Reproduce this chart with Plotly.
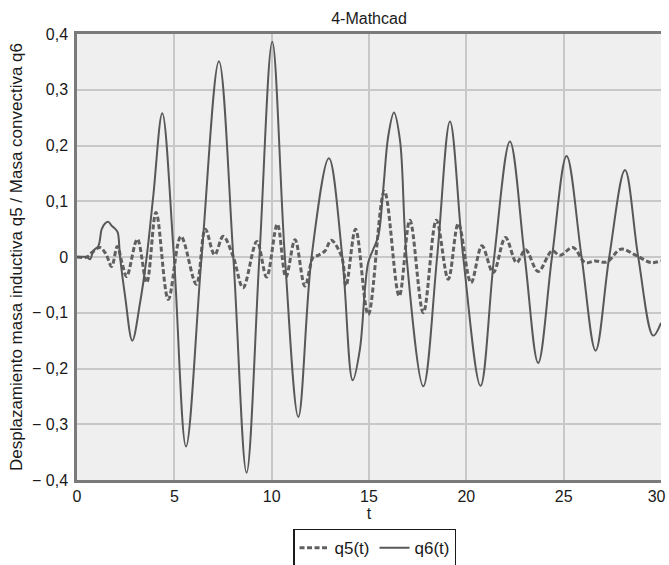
import plotly.graph_objects as go

# q5(t) – dashed (masa inductiva)
t_q5 = [0, 0.51, 0.77, 1.18, 1.49, 1.78, 2.07, 2.31, 2.55, 3.10, 3.58, 4.06, 4.69,
        5.34, 6.13, 6.59, 7.07, 7.51, 8.03, 8.53, 9.24, 9.74, 10.29, 10.73, 11.20,
        11.71, 12.14, 12.39, 12.74, 13.06, 13.60, 13.82, 14.31, 14.96, 15.79, 16.55,
        17.10, 17.79, 18.46, 19.07, 19.59, 20.24, 20.80, 21.38, 22.01, 22.58, 23.04,
        23.69, 24.40, 24.81, 25.48, 26.10, 26.61, 27.21, 27.94, 28.71, 29.48, 30.0]
q5 = [0, 0, 0.008, 0.017, 0.005, -0.017, 0.019, -0.01, -0.035, 0.032, -0.046, 0.08, -0.076,
      0.037, -0.049, 0.05, 0.004, 0.037, 0.0, -0.055, 0.028, -0.036, 0.059, -0.036, 0.031,
      -0.052, 0.0, 0.003, 0.011, 0.03, 0.0, -0.052, 0.05, -0.103, 0.118, -0.07,
      0.066, -0.1, 0.066, -0.04, 0.06, -0.046, 0.02, -0.028, 0.035, -0.01, 0.013,
      -0.026, 0.011, 0.003, 0.017, -0.01, -0.007, -0.009, 0.014, 0.003, -0.01, -0.007]

# q6(t) – solid (masa convectiva)
t_q6 = [0, 0.5, 0.67, 0.84, 1.10, 1.27, 1.44, 1.61, 1.78, 1.95, 2.09, 2.21, 2.47, 2.84,
        3.24, 3.58, 3.92, 4.38, 4.98, 5.6, 6.4, 7.29, 8.03, 8.71, 9.37, 10.03, 10.68,
        11.37, 12.05, 12.94, 13.63, 14.16, 14.53, 14.79, 14.96, 15.22, 15.48, 15.73,
        15.99, 16.28, 16.59, 16.93, 17.79, 18.5, 19.16, 19.84, 20.73, 21.43, 22.24,
        23.0, 23.69, 24.4, 25.15, 25.92, 26.64, 27.34, 28.15, 28.83, 29.6, 30.0]
q6 = [0, 0, -0.004, 0.011, 0.02, 0.05, 0.06, 0.063, 0.056, 0.051, 0.044, 0.0, -0.07, -0.15,
      -0.082, 0.0, 0.11, 0.258, 0.0, -0.34, 0.0, 0.351, 0.0, -0.387, 0.0, 0.386, 0.0,
      -0.287, 0.0, 0.177, 0.0, -0.221, -0.166, -0.058, -0.01, 0.014, 0.038, 0.121,
      0.217, 0.259, 0.21, 0.0, -0.232, 0.0, 0.243, 0.0, -0.231, 0.0, 0.207,
      0.0, -0.19, 0.0, 0.181, 0.0, -0.168, 0.0, 0.156, 0.0, -0.141, -0.118]

y_ticks = [0.4, 0.3, 0.2, 0.1, 0, -0.1, -0.2, -0.3, -0.4]
y_labels = ["0,4", "0,3", "0,2", "0,1", "0", "\u2212 0,1", "\u2212 0,2", "\u2212 0,3", "\u2212 0,4"]
x_ticks = [0, 5, 10, 15, 20, 25, 30]
x_labels = ["0", "5", "10", "15", "20", "25", "30\u2007"]

fig = go.Figure()
fig.add_trace(go.Scatter(x=t_q5, y=q5, mode="lines", name="q5(t)",
                         line=dict(color="#606060", width=3, dash="5px,2.5px",
                                   shape="spline", smoothing=1.0)))
fig.add_trace(go.Scatter(x=t_q6, y=q6, mode="lines", name="q6(t)",
                         line=dict(color="#585858", width=2,
                                   shape="spline", smoothing=1.0)))

W, H = 669, 565
font = "Liberation Sans, Arial, sans-serif"
fig.update_layout(
    width=W, height=H,
    margin=dict(l=77, r=8, t=34, b=85, autoexpand=False),
    paper_bgcolor="white", plot_bgcolor="#efefef",
    font=dict(family=font, size=16, color="#1a1a1a"),
    title=dict(text="4-Mathcad", x=0.5, xref="paper", xanchor="center",
               y=1 - 18 / H, yref="container", yanchor="middle",
               font=dict(size=16, color="#1a1a1a")),
    showlegend=True,
    legend=dict(orientation="h", x=0.51, xanchor="center", y=-0.11, yanchor="top",
                bordercolor="#1a1a1a", borderwidth=1.2, bgcolor="white",
                font=dict(size=17), itemwidth=30, tracegroupgap=0),
    xaxis=dict(range=[0, 30], tickvals=x_ticks, ticktext=x_labels,
               showgrid=True, gridcolor="#c8c8c8", gridwidth=1.5, zeroline=False,
               showline=True, linecolor="#7a7a7a", linewidth=2.5, mirror=True,
               ticks="", ticklabelstandoff=0, automargin=False,
               ticklabeloverflow="allow",
               title=dict(text="t", standoff=4, font=dict(size=16))),
    yaxis=dict(range=[-0.4, 0.4], tickvals=y_ticks, ticktext=y_labels,
               showgrid=True, gridcolor="#c8c8c8", gridwidth=1.5, zeroline=False,
               showline=True, linecolor="#7a7a7a", linewidth=2.5,
               ticks="", ticklabelstandoff=3, automargin=False,
               title=dict(text="Desplazamiento masa inductiva q5 / Masa convectiva q6",
                          standoff=6, font=dict(size=17))),
)

fig.write_html("out.html",
               config={"displayModeBar": False},
               post_script="document.body.style.margin='0';"
                           "document.body.style.overflow='hidden';")
